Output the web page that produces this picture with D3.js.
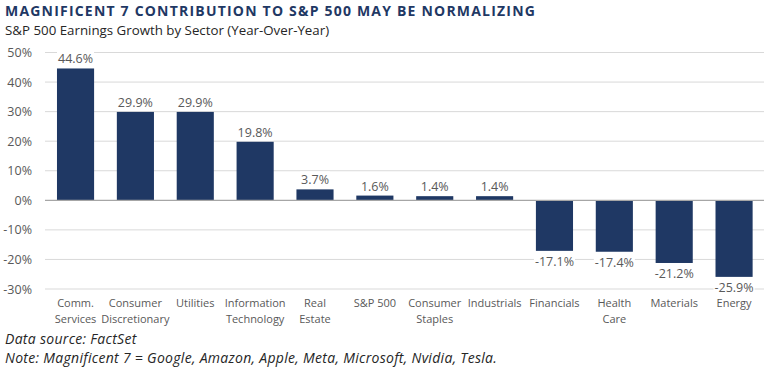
<!DOCTYPE html>
<html>
<head>
<meta charset="utf-8">
<script src="https://cdn.jsdelivr.net/npm/d3@7"></script>
<style>
  body { margin: 0; background: #fff; }
  svg { display: block; font-family: "Open Sans", "Noto Sans", sans-serif; }
</style>
</head>
<body>
<svg id="chart" width="770" height="367"></svg>
<script>
const categories = [
  ["Comm.", "Services"], ["Consumer", "Discretionary"], ["Utilities"], ["Information", "Technology"],
  ["Real", "Estate"], ["S&P 500"], ["Consumer", "Staples"], ["Industrials"],
  ["Financials"], ["Health", "Care"], ["Materials"], ["Energy"]
];
const growth = [44.6, 29.9, 29.9, 19.8, 3.7, 1.6, 1.4, 1.4, -17.1, -17.4, -21.2, -25.9];
const yTicks = [-30, -20, -10, 0, 10, 20, 30, 40, 50];

const svg = d3.select("#chart");
const navy = "#1f3864";
const grey = "#595959";

// title + subtitle
svg.append("text").attr("x", 5).attr("y", 16)
  .attr("fill", navy).attr("font-size", 14).attr("font-weight", 700)
  .attr("letter-spacing", 1.2)
  .text("MAGNIFICENT 7 CONTRIBUTION TO S&P 500 MAY BE NORMALIZING");
svg.append("text").attr("x", 5).attr("y", 35)
  .attr("fill", "#262626").attr("font-size", 13.3)
  .text("S&P 500 Earnings Growth by Sector (Year-Over-Year)");

const x = d3.scaleBand().domain(d3.range(categories.length)).range([45.6, 764]).paddingInner(0.38).paddingOuter(0.19);
const y = d3.scaleLinear().domain([-30, 50]).range([289, 52.5]);

// gridlines
svg.append("g").selectAll("line").data(yTicks.filter(d => d !== 0)).join("line")
  .attr("x1", 45).attr("x2", 764)
  .attr("y1", d => y(d)).attr("y2", d => y(d))
  .attr("stroke", "#d9d9d9").attr("stroke-width", 1);

// y axis labels
const yAxis = d3.axisLeft(y).tickValues(yTicks).tickFormat(d => d + "%").tickSize(0).tickPadding(0);
const ya = svg.append("g").attr("transform", "translate(32,0)").call(yAxis);
ya.select(".domain").remove();
ya.selectAll("text").attr("fill", grey).attr("font-size", 12.5).attr("font-family", "'Open Sans', sans-serif");

// bars
svg.append("g").selectAll("rect").data(growth).join("rect")
  .attr("x", (d, i) => x(i))
  .attr("width", x.bandwidth())
  .attr("y", d => y(Math.max(0, d)))
  .attr("height", d => Math.abs(y(d) - y(0)))
  .attr("fill", navy);

// zero line
svg.append("line").attr("x1", 45).attr("x2", 764)
  .attr("y1", y(0)).attr("y2", y(0))
  .attr("stroke", "#a6a6a6").attr("stroke-width", 1.2);

// data labels
const labels = svg.append("g").selectAll("g").data(growth).join("g")
  .attr("transform", (d, i) => `translate(${x(i) + x.bandwidth() / 2},${d >= 0 ? y(d) - 5 : y(d) + 15})`);
labels.each(function (d) {
  const g = d3.select(this);
  const t = g.append("text").attr("text-anchor", "middle")
    .attr("fill", grey).attr("font-size", 12.5)
    .text(d.toFixed(1) + "%");
  const bb = t.node().getBBox();
  g.insert("rect", "text").attr("x", bb.x - 1).attr("y", bb.y).attr("width", bb.width + 2).attr("height", bb.height).attr("fill", "#fff");
});

// category labels
const cat = svg.append("g").selectAll("text").data(categories).join("text")
  .attr("text-anchor", "middle")
  .attr("x", (d, i) => x(i) + x.bandwidth() / 2)
  .attr("y", 307)
  .attr("fill", grey).attr("font-size", 11);
cat.selectAll("tspan").data(d => d).join("tspan")
  .attr("x", function () { return this.parentNode.getAttribute("x"); })
  .attr("dy", (d, i) => i === 0 ? 0 : 15.5)
  .text(d => d);

// footer
svg.append("text").attr("x", 5).attr("y", 344)
  .attr("fill", "#262626").attr("font-size", 14).attr("font-style", "italic")
  .attr("letter-spacing", 0.3)
  .text("Data source: FactSet");
svg.append("text").attr("x", 5).attr("y", 363)
  .attr("fill", "#262626").attr("font-size", 14).attr("font-style", "italic")
  .attr("letter-spacing", 0.3)
  .text("Note: Magnificent 7 = Google, Amazon, Apple, Meta, Microsoft, Nvidia, Tesla.");
</script>
</body>
</html>
